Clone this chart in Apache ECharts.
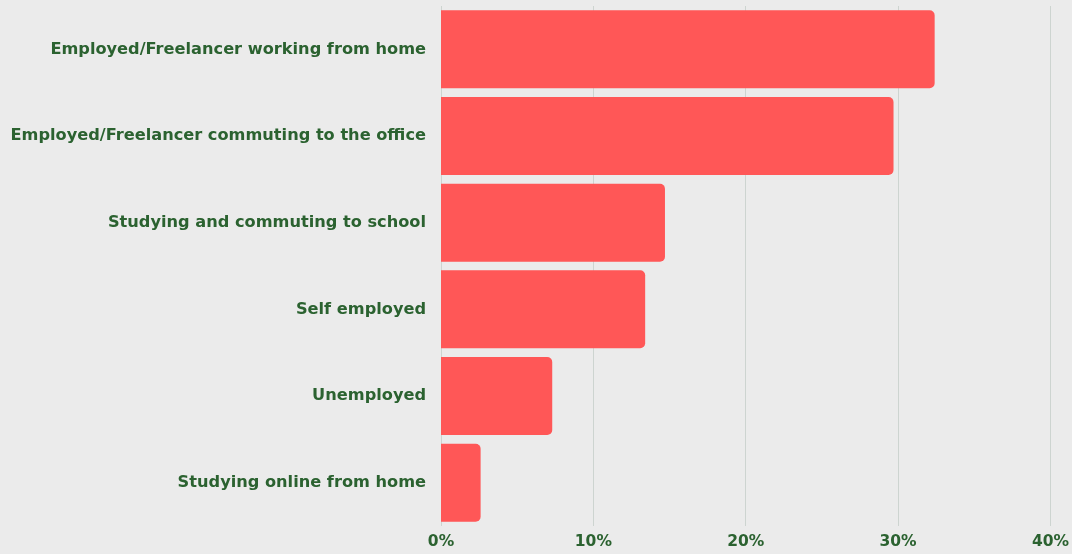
<!DOCTYPE html>
<html>
<head>
<meta charset="utf-8">
<script src="https://cdn.jsdelivr.net/npm/echarts@6/dist/echarts.min.js"></script>
<style>
  html, body { margin: 0; padding: 0; background: #ebebeb; }
  #chart { width: 1072px; height: 554px; }
</style>
</head>
<body>
<div id="chart"></div>
<script>
// Occupation categories, top to bottom
const categories = [
  'Employed/Freelancer working from home',
  'Employed/Freelancer commuting to the office',
  'Studying and commuting to school',
  'Self employed',
  'Unemployed',
  'Studying online from home'
];
// Share of respondents, in percent
const shares = [32.4, 29.7, 14.7, 13.4, 7.3, 2.6];
// Percent axis ticks
const tickValues = [0, 10, 20, 30, 40];

const labelGreen = '#2b6230';
const labelFont = '"DejaVu Sans", Inter, sans-serif';
const chart = echarts.init(document.getElementById('chart'));
chart.setOption({
  backgroundColor: '#ebebeb',
  animation: false,
  grid: { left: 441, right: 21, top: 6, bottom: 28, containLabel: false },
  xAxis: {
    type: 'value',
    min: tickValues[0],
    max: tickValues[tickValues.length - 1],
    interval: 10,
    axisLine: { show: false },
    axisTick: { show: false },
    axisLabel: {
      formatter: v => v + '%',
      color: labelGreen,
      fontFamily: labelFont,
      fontWeight: 'bold',
      fontSize: 15.5,
      margin: 8
    },
    splitLine: { show: true, lineStyle: { color: '#cdd4d0', width: 1 } }
  },
  yAxis: {
    type: 'category',
    data: categories,
    inverse: true,
    axisLine: { show: false },
    axisTick: { show: false },
    axisLabel: {
      color: labelGreen,
      fontFamily: labelFont,
      fontWeight: 'bold',
      fontSize: 16.2,
      margin: 15
    }
  },
  series: [{
    type: 'bar',
    data: shares,
    barCategoryGap: '10%',
    itemStyle: { color: '#ff5757', borderRadius: [0, 5, 5, 0] }
  }]
});
</script>
</body>
</html>
